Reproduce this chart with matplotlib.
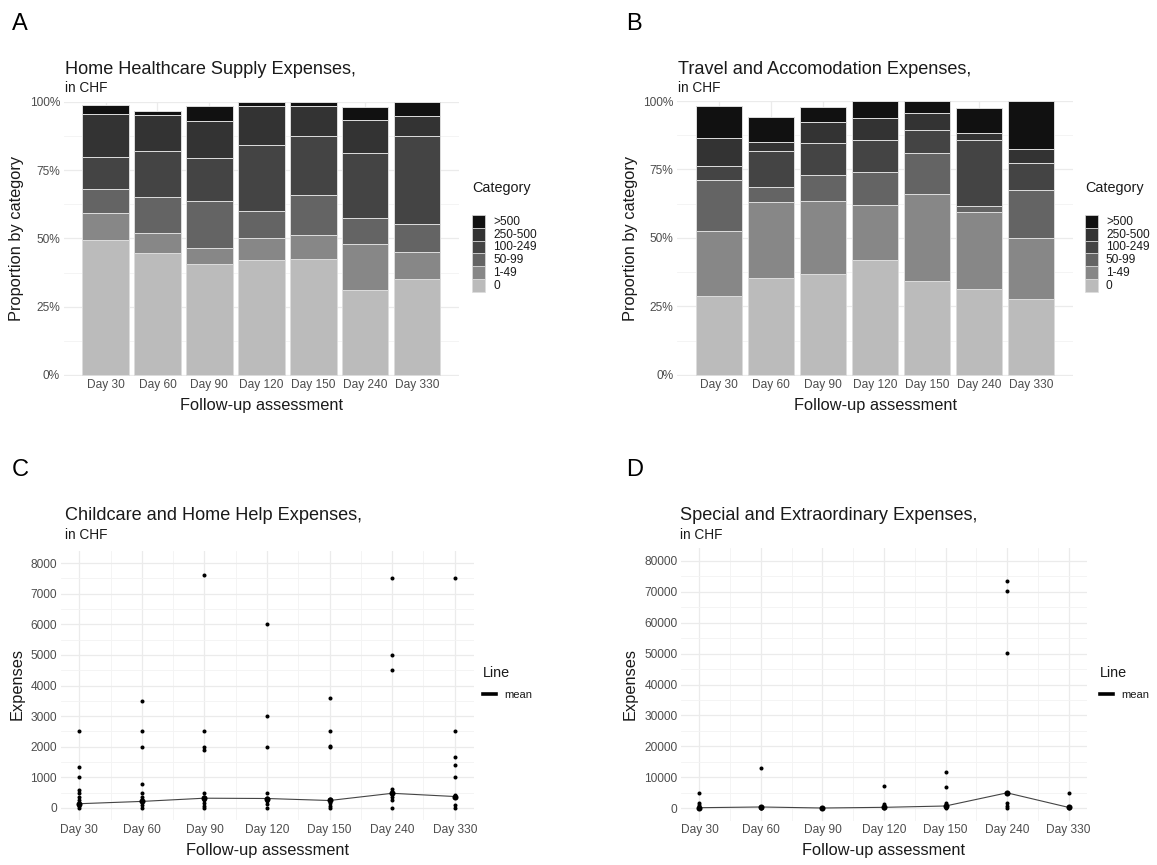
import matplotlib
matplotlib.use("Agg")
import matplotlib.pyplot as plt
from matplotlib.patches import Rectangle
from matplotlib.lines import Line2D
import numpy as np

plt.rcParams['font.family'] = ['Liberation Sans', 'DejaVu Sans']

# ---------------- data ----------------
days = ["Day 30", "Day 60", "Day 90", "Day 120", "Day 150", "Day 240", "Day 330"]
categories = ["0", "1-49", "50-99", "100-249", "250-500", ">500"]
cat_colors = ["#bbbbbb", "#878787", "#646464", "#444444", "#333333", "#111111"]

# Home healthcare supply expenses (% per category, bottom to top)
home_0 = [49.3, 44.8, 40.7, 42.1, 42.6, 31.3, 35.0]
home_1_49 = [10.2, 7.3, 5.8, 8.1, 8.7, 16.6, 10.2]
home_50_99 = [8.8, 13.1, 17.2, 9.9, 14.8, 9.6, 10.0]
home_100_249 = [11.7, 16.9, 15.7, 24.2, 21.6, 23.8, 32.5]
home_250_500 = [15.7, 13.0, 13.6, 14.2, 10.7, 12.1, 7.3]
home_gt500 = [3.3, 1.7, 5.5, 1.5, 1.6, 4.6, 5.0]

# Travel and accommodation expenses (% per category, bottom to top)
travel_0 = [29.0, 35.4, 36.7, 42.1, 34.2, 31.3, 27.7]
travel_1_49 = [23.6, 27.7, 26.8, 20.1, 31.7, 28.3, 22.4]
travel_50_99 = [18.6, 5.5, 9.5, 11.9, 15.1, 2.2, 17.3]
travel_100_249 = [5.1, 13.2, 11.7, 11.7, 8.3, 24.0, 10.1]
travel_250_500 = [10.1, 3.4, 7.5, 8.0, 6.3, 2.4, 4.9]
travel_gt500 = [11.9, 9.1, 5.7, 6.2, 4.4, 9.2, 17.6]

# Childcare and home help expenses (individual values, CHF)
child_d30 = [2500, 1330, 1000, 590, 500, 375, 270, 160, 50, 0]
child_d60 = [3500, 2500, 2000, 800, 500, 375, 235, 100, 0]
child_d90 = [7600, 2500, 1980, 1900, 500, 375, 270, 160, 50, 0]
child_d120 = [6000, 3000, 2000, 500, 320, 235, 130, 0]
child_d150 = [3600, 2500, 2030, 1980, 290, 160, 50, 0]
child_d240 = [7500, 5000, 4500, 610, 480, 375, 270, 0]
child_d330 = [7500, 2500, 1680, 1390, 1000, 430, 375, 100, 0]
child_mean = [140, 215, 320, 310, 245, 480, 375]

# Special and extraordinary expenses (individual values, CHF)
special_d30 = [5000, 1600, 1000, 540, 0]
special_d60 = [13000, 540, 200, 0]
special_d90 = [200, 0]
special_d120 = [7200, 1300, 540, 0]
special_d150 = [11800, 7000, 1600, 540, 0]
special_d240 = [73300, 70200, 50200, 1600, 750, 0]
special_d330 = [4800, 540, 0]
special_mean = [200, 430, 100, 320, 750, 5000, 300]

home = [home_0, home_1_49, home_50_99, home_100_249, home_250_500, home_gt500]
travel = [travel_0, travel_1_49, travel_50_99, travel_100_249, travel_250_500, travel_gt500]
child = [child_d30, child_d60, child_d90, child_d120, child_d150, child_d240, child_d330]
special = [special_d30, special_d60, special_d90, special_d120, special_d150, special_d240, special_d330]

# ---------------- layout ----------------
W, H = 1157, 865
fig = plt.figure(figsize=(W / 100, H / 100), dpi=100)
fig.patch.set_facecolor("white")

TXT = "#1a1a1a"
TICK = "#4d4d4d"
GRID_MAJ = "#ebebeb"
GRID_MIN = "#f3f3f3"
TITLE_FS = 13.1
AXT_FS = 11.8


def add_ax(l, r, t, b):
    return fig.add_axes([l / W, 1 - b / H, (r - l) / W, (b - t) / H])


def fx(x):
    return x / W


def fy(y):
    return 1 - y / H


def style(ax):
    for s in ax.spines.values():
        s.set_visible(False)
    ax.tick_params(length=0, colors=TICK, labelsize=8.6, pad=2.5)
    ax.set_axisbelow(True)
    ax.grid(True, which="major", color=GRID_MAJ, lw=0.9)
    ax.grid(True, which="minor", color=GRID_MIN, lw=0.6)
    ax.tick_params(which="minor", length=0)


def bar_panel(l, r, t, b, data, title, ytitle_x, legend_x):
    ax = add_ax(l, r, t, b)
    style(ax)
    x = np.arange(len(days))
    bottom = np.zeros(len(days))
    for vals, col in zip(data, cat_colors):
        v = np.array(vals) / 100.0
        ax.bar(x, v, bottom=bottom, width=0.9, color=col, edgecolor="#dcdcdc", linewidth=0.7)
        bottom += v
    ax.set_xlim(-0.81, 6.81)
    ax.set_ylim(-0.002, 1.0)
    ax.set_xticks(x)
    ax.set_xticklabels(days)
    ax.set_yticks([0, 0.25, 0.5, 0.75, 1.0])
    ax.set_yticklabels(["0%", "25%", "50%", "75%", "100%"])
    ax.set_yticks([0.125, 0.375, 0.625, 0.875], minor=True)
    fig.text(fx(l + 1.5), fy(69), title, fontsize=TITLE_FS, color=TXT, ha="left", va="center")
    fig.text(fx(l + 1.5), fy(88), "in CHF", fontsize=9.8, color=TXT, ha="left", va="center")
    fig.text(fx(ytitle_x), fy((t + b) / 2), "Proportion by category", fontsize=AXT_FS,
             color=TXT, rotation=90, ha="center", va="center")
    fig.text(fx((l + r) / 2), fy(405), "Follow-up assessment", fontsize=AXT_FS,
             color=TXT, ha="center", va="center")
    # legend
    fig.text(fx(legend_x), fy(188), "Category", fontsize=10.4, color=TXT, ha="left", va="center")
    top = 215
    kh = 12.8
    for i, (lab, col) in enumerate(zip(categories[::-1], cat_colors[::-1])):
        y0 = top + i * kh
        fig.patches.append(Rectangle((fx(legend_x), fy(y0 + kh)), 13 / W, kh / H,
                                     transform=fig.transFigure, facecolor=col,
                                     edgecolor="#dcdcdc", lw=0.5))
        fig.text(fx(legend_x + 21), fy(y0 + kh / 2 + 0.5), lab, fontsize=8.6, color=TXT,
                 ha="left", va="center")
    return ax


def point_panel(l, r, t, b, pts, means, ylim, ymaj, ymin, title, title_x, ytitle_x, legend_x):
    ax = add_ax(l, r, t, b)
    style(ax)
    x = np.arange(1, len(days) + 1)
    for xi, vals in zip(x, pts):
        ax.plot(np.full(len(vals), xi), vals, "o", color="black", ms=2.9, mew=0, zorder=3)
    ax.plot(x, means, "-", color="#444444", lw=0.8, zorder=2)
    ax.plot(x, means, "o", color="black", ms=4.4, mew=0, zorder=4)
    ax.set_xlim(0.7, 7.3)
    ax.set_ylim(*ylim)
    ax.set_xticks(x)
    ax.set_xticklabels(days)
    ax.set_xticks(x[:-1] + 0.5, minor=True)
    ax.set_yticks(ymaj)
    ax.set_yticklabels([str(v) for v in ymaj])
    ax.set_yticks(ymin, minor=True)
    fig.text(fx(title_x), fy(516), title, fontsize=TITLE_FS, color=TXT, ha="left", va="center")
    fig.text(fx(title_x), fy(535), "in CHF", fontsize=9.8, color=TXT, ha="left", va="center")
    fig.text(fx(ytitle_x), fy(684), "Expenses", fontsize=AXT_FS, color=TXT,
             rotation=90, ha="center", va="center")
    fig.text(fx((l + r) / 2), fy(850), "Follow-up assessment", fontsize=AXT_FS,
             color=TXT, ha="center", va="center")
    # legend
    fig.text(fx(legend_x), fy(673), "Line", fontsize=10.4, color=TXT, ha="left", va="center")
    fig.lines.append(Line2D([fx(legend_x), fx(legend_x + 13)], [fy(694), fy(694)],
                            transform=fig.transFigure, color="black", lw=2.6))
    fig.text(fx(legend_x + 21), fy(695), "mean", fontsize=8.0, color=TXT,
             ha="left", va="center")
    return ax


bar_panel(63.5, 459, 102, 375.5, home, "Home Healthcare Supply Expenses,", 17, 472)
bar_panel(677, 1073, 101, 375.5, travel, "Travel and Accomodation Expenses,", 630, 1085)

point_panel(60.5, 473.5, 550.75, 820.25, child, child_mean, (-400, 8400),
            list(range(0, 8001, 1000)), list(range(500, 8001, 1000)),
            "Childcare and Home Help Expenses,", 65, 17, 483)
point_panel(681, 1087, 548.3, 820.7, special, special_mean, (-4000, 84000),
            list(range(0, 80001, 10000)), list(range(5000, 80001, 10000)),
            "Special and Extraordinary Expenses,", 680, 630, 1100)

# panel letters
for lab, x, y in [("A", 12, 24), ("B", 626, 24), ("C", 12, 470), ("D", 626, 470)]:
    fig.text(fx(x), fy(y), lab, fontsize=17, color="black", ha="left", va="center")

fig.savefig("out.png", dpi=100)
